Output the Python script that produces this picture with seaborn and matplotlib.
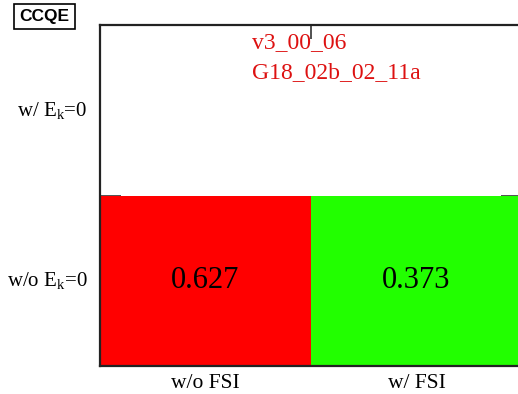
import numpy as np
import pandas as pd
import matplotlib
matplotlib.use("Agg")
import matplotlib.pyplot as plt
from matplotlib.colors import ListedColormap
import seaborn as sns

x_labels = ["w/o FSI", "w/ FSI"]
y_labels = ["w/ E$_{k}$=0", "w/o E$_{k}$=0"]
row_top = [np.nan, np.nan]
row_bottom = [0.627, 0.373]
title_box = "CCQE"
info_lines = ["v3_00_06", "G18_02b_02_11a"]

sns.set_style("white")
plt.rcParams['font.family'] = ['Liberation Serif', 'DejaVu Serif']
plt.rcParams['mathtext.fontset'] = 'custom'
plt.rcParams['mathtext.rm'] = 'Liberation Serif'
plt.rcParams['mathtext.it'] = 'Liberation Serif'
plt.rcParams['mathtext.default'] = 'regular'

df = pd.DataFrame([row_top, row_bottom], index=y_labels, columns=x_labels)

fig = plt.figure(figsize=(5.18, 3.94), dpi=100)
ax = fig.add_axes([100/518, 28/394, 422/518, 341/394])
cmap = ListedColormap(['#22ff00', '#ff0000'])
sns.heatmap(df, ax=ax, cmap=cmap, vmin=0, vmax=1, cbar=False,
            annot=True, fmt=".3f", annot_kws={"fontsize": 22, "color": "black"})
ax.set_axisbelow(True)
for s in ax.spines.values():
    s.set_visible(True)
    s.set_color('#222222')
    s.set_linewidth(1.6)
ax.tick_params(axis='x', which='major', length=0, labelsize=15.5, pad=6, labelcolor='black')
ax.tick_params(axis='y', which='major', length=0, labelsize=15, pad=9, labelcolor='black', rotation=0)
ax.set_xticks([1], minor=True)
ax.set_yticks([1], minor=True)
ax.tick_params(axis='x', which='minor', direction='in', length=10, width=1.2, color='#333333',
               top=True, bottom=True)
ax.tick_params(axis='y', which='minor', direction='in', length=15, width=1.2, color='#333333',
               left=True, right=True)
ax.set_xlabel("")
ax.set_ylabel("")

fig.text(252/518, 1 - 43/394, info_lines[0], color='#dd1111', fontsize=17, va='center', ha='left')
fig.text(252/518, 1 - 73/394, info_lines[1], color='#dd1111', fontsize=17, va='center', ha='left')
fig.text(44.5/518, 1 - 16.5/394, title_box, fontsize=12.5, fontweight='bold', family='Liberation Sans',
         color='black', ha='center', va='center',
         bbox=dict(boxstyle='square,pad=0.3', fc='white', ec='black', lw=1.2))

fig.savefig("out.png", dpi=100)
